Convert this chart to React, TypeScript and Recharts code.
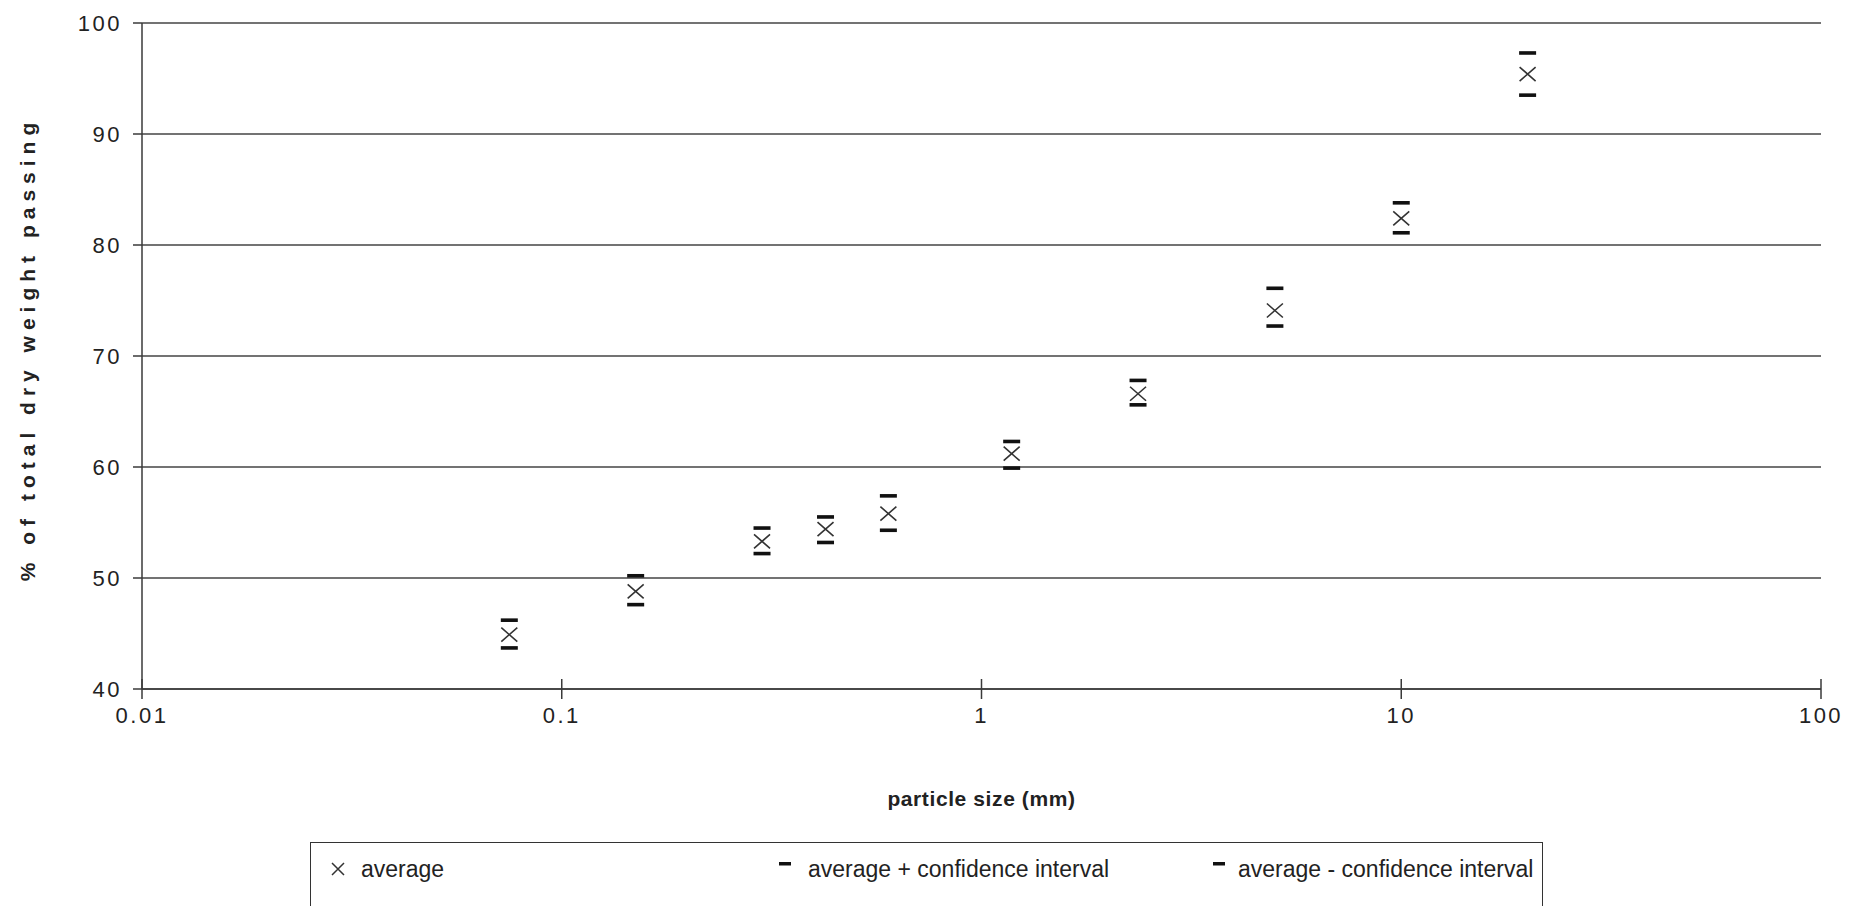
import React from 'react';
import { ScatterChart, Scatter, XAxis, YAxis, CartesianGrid } from 'recharts';

const particleSizes = [0.075, 0.15, 0.3, 0.425, 0.6, 1.18, 2.36, 5, 10, 20];
const averageValues = [44.9, 48.8, 53.3, 54.4, 55.8, 61.2, 66.6, 74.1, 82.4, 95.4];
const upperValues = [46.2, 50.2, 54.5, 55.5, 57.4, 62.3, 67.8, 76.1, 83.8, 97.3];
const lowerValues = [43.7, 47.6, 52.2, 53.2, 54.3, 59.9, 65.6, 72.7, 81.1, 93.5];
const xTicks = [0.01, 0.1, 1, 10, 100];
const yTicks = [40, 50, 60, 70, 80, 90, 100];
const seriesNames = ['average', 'average + confidence interval', 'average - confidence interval'];
const xAxisTitle = 'particle size (mm)';
const yAxisTitle = '% of total dry weight passing';

const FONT = '"Liberation Sans", Arial, Helvetica, sans-serif';
const INK = '#222';
const LINE = '#3a3a3a';

const avgData = particleSizes.map((x, i) => ({ x, y: averageValues[i] }));
const upperData = particleSizes.map((x, i) => ({ x, y: upperValues[i] }));
const lowerData = particleSizes.map((x, i) => ({ x, y: lowerValues[i] }));

const fmtX = (v: number) => String(v);

const XTick = (props: any) => {
  const { x, y, payload } = props;
  return (
    <g>
      <line x1={x} x2={x} y1={y - 10} y2={y + 10} stroke={LINE} strokeWidth={1.5} />
      <text x={x} y={y + 34} textAnchor="middle" fontFamily={FONT} fontSize={22} fill={INK} letterSpacing={2.5}>
        {fmtX(payload.value)}
      </text>
    </g>
  );
};

const YTick = (props: any) => {
  const { x, y, payload } = props;
  return (
    <text x={x} y={y} dy="0.36em" textAnchor="end" fontFamily={FONT} fontSize={22} fill={INK} letterSpacing={2.5}>
      {payload.value}
    </text>
  );
};

const CrossShape = (props: any) => {
  const { cx, cy } = props;
  if (cx == null || cy == null) return null;
  return (
    <path
      d={`M${cx - 8},${cy - 7}L${cx + 8},${cy + 7}M${cx - 8},${cy + 7}L${cx + 8},${cy - 7}`}
      stroke="#333"
      strokeWidth={1.6}
      fill="none"
    />
  );
};

const DashShape = (props: any) => {
  const { cx, cy } = props;
  if (cx == null || cy == null) return null;
  return <rect x={cx - 8.5} y={cy - 1.8} width={17} height={3.6} fill="#111" />;
};

const YLabel = (props: any) => {
  const vb = props.viewBox || { x: 62, y: 23, width: 80, height: 666 };
  const cx = 27;
  const cy = vb.y + vb.height / 2 - 7;
  return (
    <text
      x={cx}
      y={cy}
      transform={`rotate(-90 ${cx} ${cy})`}
      textAnchor="middle"
      dominantBaseline="central"
      fontFamily={FONT}
      fontSize={21}
      fontWeight="bold"
      fill={INK}
      letterSpacing={6}
    >
      {yAxisTitle}
    </text>
  );
};

const XLabel = (props: any) => {
  const vb = props.viewBox || { x: 142, y: 689, width: 1679, height: 60 };
  return (
    <text
      x={vb.x + vb.width / 2}
      y={vb.y + 117}
      textAnchor="middle"
      fontFamily={FONT}
      fontSize={21}
      fontWeight="bold"
      fill={INK}
      letterSpacing={0.6}
    >
      {xAxisTitle}
    </text>
  );
};

const LegendCross = () => (
  <svg width={16} height={16} style={{ display: 'block' }}>
    <path d="M2,2L14,14M2,14L14,2" stroke="#333" strokeWidth={1.5} fill="none" />
  </svg>
);

const LegendDash = () => (
  <svg width={12} height={4} style={{ display: 'block' }}>
    <rect x={0} y={0} width={12} height={3.5} fill="#111" />
  </svg>
);

const legendText: React.CSSProperties = {
  position: 'absolute',
  top: 13,
  fontFamily: FONT,
  fontSize: 23,
  color: INK,
  whiteSpace: 'nowrap',
  lineHeight: '27px',
};

export default function App() {
  return (
    <div style={{ position: 'absolute', left: 0, top: 0, width: 1854, height: 906, background: '#fff', overflow: 'hidden' }}>
      <ScatterChart width={1854} height={906} margin={{ top: 23, right: 33, left: 62, bottom: 157 }}>
        <CartesianGrid vertical={false} stroke="#444" strokeWidth={1.3} />
        <XAxis
          type="number"
          dataKey="x"
          scale="log"
          domain={[0.01, 100]}
          ticks={xTicks}
          allowDataOverflow
          height={60}
          tickSize={0}
          tickMargin={0}
          tickLine={false}
          axisLine={{ stroke: LINE, strokeWidth: 1.5 }}
          tick={<XTick />}
          interval={0}
          label={<XLabel />}
        />
        <YAxis
          type="number"
          dataKey="y"
          domain={[40, 100]}
          ticks={yTicks}
          allowDataOverflow
          width={80}
          tickSize={9}
          tickMargin={11}
          tickLine={{ stroke: LINE, strokeWidth: 1.5 }}
          axisLine={{ stroke: LINE, strokeWidth: 1.5 }}
          tick={<YTick />}
          interval={0}
          label={<YLabel />}
        />
        <Scatter name={seriesNames[0]} data={avgData} shape={<CrossShape />} isAnimationActive={false} />
        <Scatter name={seriesNames[1]} data={upperData} shape={<DashShape />} isAnimationActive={false} />
        <Scatter name={seriesNames[2]} data={lowerData} shape={<DashShape />} isAnimationActive={false} />
      </ScatterChart>
      <div
        style={{
          position: 'absolute',
          left: 310,
          top: 842,
          width: 1233,
          height: 80,
          border: '1.5px solid #333',
          boxSizing: 'border-box',
          background: '#fff',
        }}
      >
        <div style={{ position: 'absolute', left: 19, top: 18 }}><LegendCross /></div>
        <div style={{ ...legendText, left: 50 }}>{seriesNames[0]}</div>
        <div style={{ position: 'absolute', left: 468, top: 19 }}><LegendDash /></div>
        <div style={{ ...legendText, left: 497 }}>{seriesNames[1]}</div>
        <div style={{ position: 'absolute', left: 902, top: 19 }}><LegendDash /></div>
        <div style={{ ...legendText, left: 927 }}>{seriesNames[2]}</div>
      </div>
    </div>
  );
}
